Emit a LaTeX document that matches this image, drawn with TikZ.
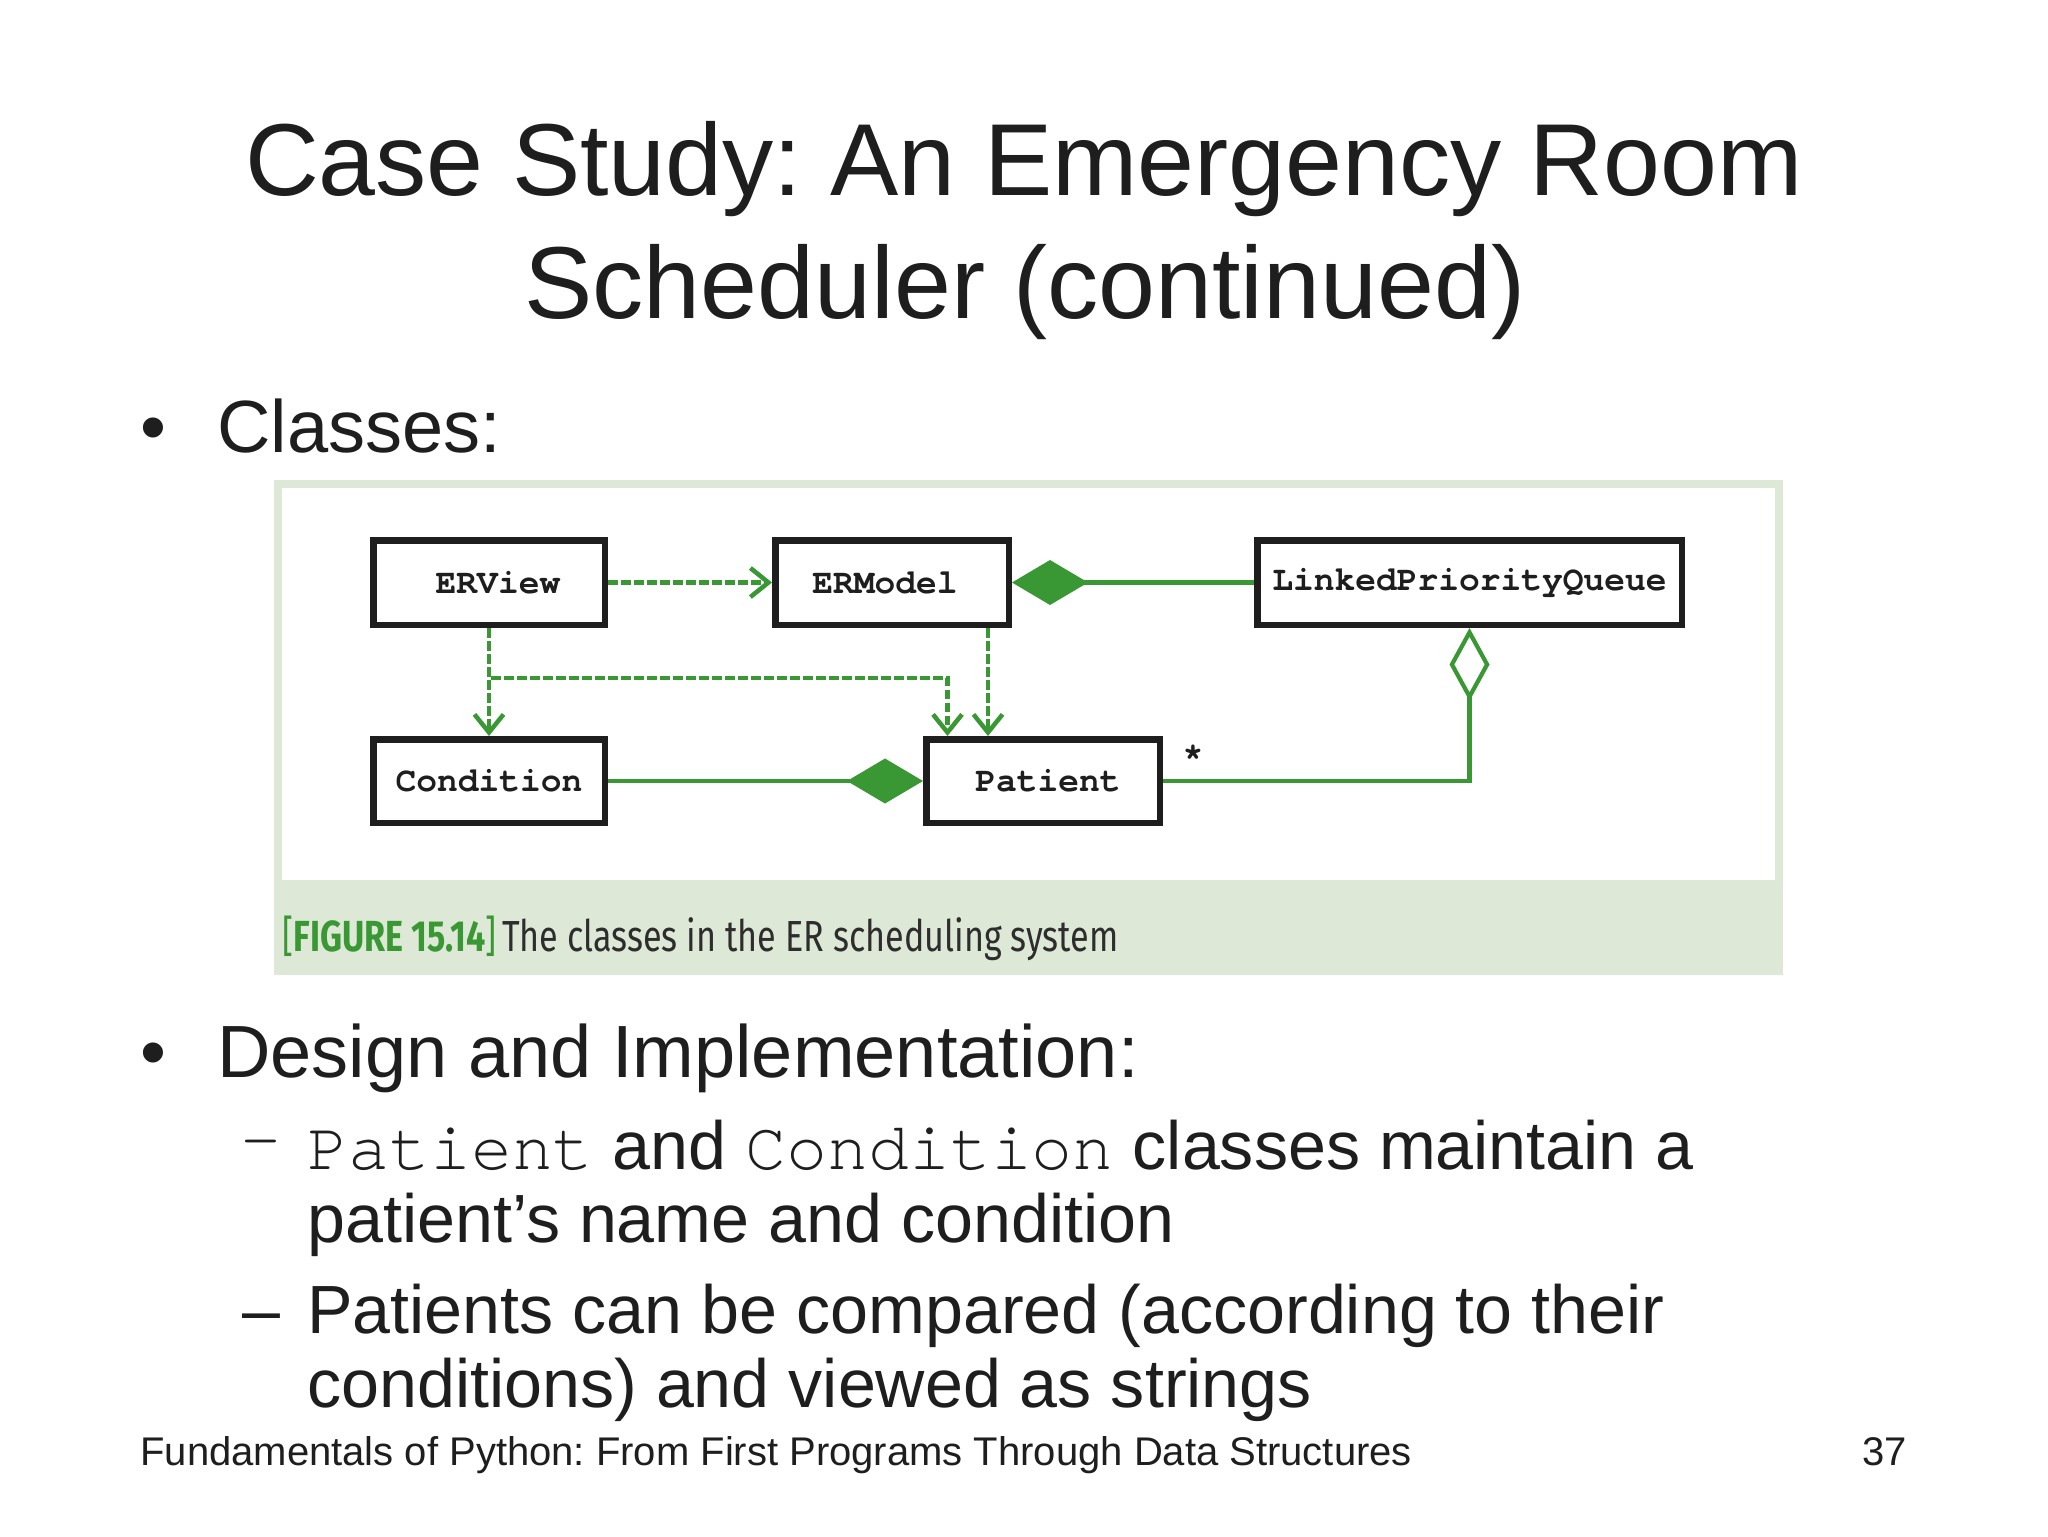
\documentclass[tikz,border=0pt]{standalone}
\usepackage{fontspec}
\setmainfont{Liberation Sans}
\IfFontExistsTF{TeX Gyre Cursor}
  {\newfontfamily\monofont{TeX Gyre Cursor}}
  {\newfontfamily\monofont{Liberation Mono}}
\newfontfamily\capfont{Fira Sans}
\usetikzlibrary{arrows.meta}
\definecolor{umlgreen}{RGB}{58,152,52}
\definecolor{panelgreen}{RGB}{221,233,214}
\definecolor{ink}{RGB}{30,30,30}
\definecolor{capink}{RGB}{45,45,45}
\newsavebox\capbox
\frenchspacing
\begin{document}
\begin{tikzpicture}[x=0.5pt,y=-0.5pt,
  cls/.style={draw=ink,line width=3.25pt,fill=white,inner sep=0pt,text=ink,
    font=\monofont\bfseries\fontsize{17.3pt}{20pt}\selectfont},
  dep/.style={umlgreen,line width=2.25pt,dash pattern=on 4.75pt off 1.75pt,
    -{Straight Barb[length=9pt,width=14.5pt]}},
  comp/.style={umlgreen,line width=2.25pt,-{Diamond[length=38pt,width=22.5pt]}},
  agg/.style={umlgreen,line width=2.1pt,-{Diamond[open,length=36.5pt,width=20pt,fill=white]}},
  txt/.style={inner sep=0pt,text=ink},
  ttl/.style={txt,font=\frenchspacing\fontsize{51.15pt}{60pt}\selectfont},
  lvl1/.style={txt,font=\fontsize{37pt}{42pt}\selectfont},
  lvl2/.style={txt,font=\fontsize{34.1pt}{40pt}\selectfont},
  foot/.style={txt,font=\frenchspacing\fontsize{20pt}{24pt}\selectfont}
]
\useasboundingbox (0,0) rectangle (2048,1536);
\fill[white] (0,0) rectangle (2048,1536);

% title
\node[ttl,anchor=base] (t1) at (1024,195) {Case Study: An Emergency Room};
\node[ttl,anchor=base] (t2) at (1025,318) {Scheduler (continued)};

% bullet 1
\node[lvl1,anchor=base] (b1) at (153,452) {•};
\node[lvl1,anchor=base west] (classes) at (217,452) {Classes:};

% figure panel
\fill[panelgreen] (274,480) rectangle (1783,975);
\fill[white] (282,488) rectangle (1775,880);

\node[cls,minimum width=115.75pt,minimum height=42.25pt] (erview) at (489,582.5) {\hspace*{9pt}ERView};
\node[cls,minimum width=116.75pt,minimum height=42.25pt] (ermodel) at (892,582.5) {ERModel\hspace*{7pt}};
\node[cls,minimum width=212.25pt,minimum height=42.25pt] (lpq) at (1469.5,582.5) {LinkedPriorityQueue};
\node[cls,minimum width=115.75pt,minimum height=41.75pt] (condition) at (489,781) {Condition};
\node[cls,minimum width=116.75pt,minimum height=41.75pt] (patient) at (1043,781) {\hspace*{5pt}Patient};

\coordinate (j) at (947.5,678);
\draw[dep] (erview) -- (ermodel);
\draw[dep] (erview) -- (condition);
\draw[dep] (erview.south) |- (j) -- (j |- patient.north);
\draw[dep] ([xshift=-12pt]ermodel.south east) -- ([xshift=-12pt]ermodel.south east |- patient.north);
\draw[comp] (lpq) -- (ermodel);
\draw[comp] (condition) -- (patient);
\draw[agg] (patient) -| (lpq);
\node[txt,anchor=base,font=\monofont\bfseries\fontsize{17.3pt}{20pt}\selectfont] (mult) at (1193,766) {*};

\node[txt,anchor=base west] (cap) at (282,951) {\sbox\capbox{\capfont\fontsize{21.75pt}{24pt}\selectfont\textcolor{umlgreen}{[\textbf{FIGURE 15.14}]}\,\textcolor{capink}{The classes in the ER scheduling system}}\pgfmathsetmacro\capscale{418/(\wd\capbox)}\scalebox{\capscale}[1]{\usebox\capbox}};

% bullet 2
\node[lvl1,anchor=base] (b2) at (153,1077) {•};
\node[lvl1,anchor=base west] (design) at (217,1077) {Design and Implementation:};

\node[lvl2,anchor=base west] (d1) at (240,1160) {\monofont –};
\node[lvl2,anchor=base west] (s1) at (307,1169) {{\monofont Patient} and {\monofont Condition} classes maintain a};
\node[lvl2,anchor=base west] (s1b) at (307,1242) {patient’s name and condition};
\node[lvl2,anchor=base west] (d2) at (242,1333) {–};
\node[lvl2,anchor=base west] (s2) at (307,1333) {Patients can be compared (according to their};
\node[lvl2,anchor=base west] (s2b) at (307,1407) {conditions) and viewed as strings};

% footer
\node[foot,anchor=base west] (footer) at (140,1465) {Fundamentals of Python: From First Programs Through Data Structures};
\node[foot,anchor=base east] (page) at (1907,1465) {37};
\end{tikzpicture}
\end{document}
